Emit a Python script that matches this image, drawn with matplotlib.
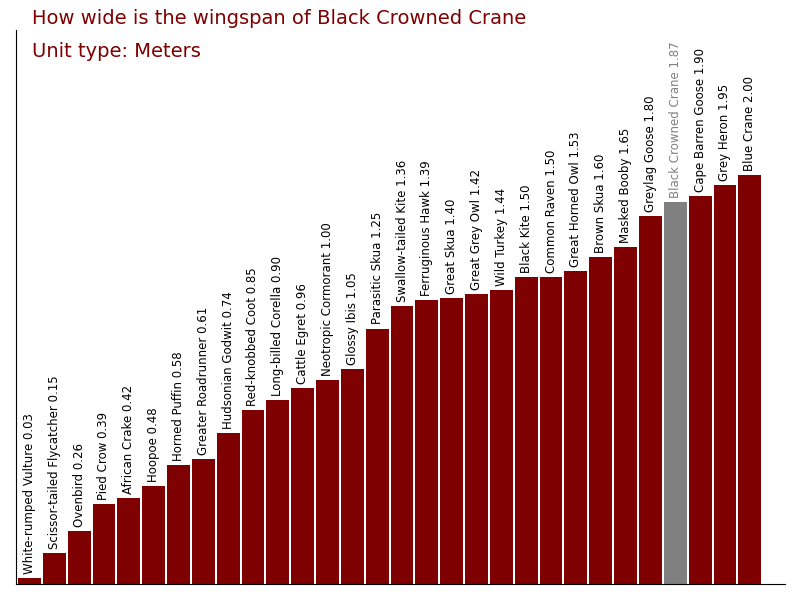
import matplotlib
matplotlib.use('Agg')
import matplotlib.pyplot as plt

birds = ['White-rumped Vulture', 'Scissor-tailed Flycatcher', 'Ovenbird', 'Pied Crow',
         'African Crake', 'Hoopoe', 'Horned Puffin', 'Greater Roadrunner', 'Hudsonian Godwit',
         'Red-knobbed Coot', 'Long-billed Corella', 'Cattle Egret', 'Neotropic Cormorant',
         'Glossy Ibis', 'Parasitic Skua', 'Swallow-tailed Kite', 'Ferruginous Hawk',
         'Great Skua', 'Great Grey Owl', 'Wild Turkey', 'Black Kite', 'Common Raven',
         'Great Horned Owl', 'Brown Skua', 'Masked Booby', 'Greylag Goose',
         'Black Crowned Crane', 'Cape Barren Goose', 'Grey Heron', 'Blue Crane']
wingspan = [0.03, 0.15, 0.26, 0.39, 0.42, 0.48, 0.58, 0.61, 0.74, 0.85, 0.90, 0.96, 1.00,
            1.05, 1.25, 1.36, 1.39, 1.40, 1.42, 1.44, 1.50, 1.50, 1.53, 1.60, 1.65, 1.80,
            1.87, 1.90, 1.95, 2.00]
highlight = 'Black Crowned Crane'

fig = plt.figure(figsize=(8, 6), dpi=100)
ax = fig.add_axes([0.02, 0.0267, 0.961, 0.923])

x = list(range(len(birds)))
colors = ['#808080' if b == highlight else '#7f0000' for b in birds]
ax.bar(x, wingspan, width=0.92, color=colors)

for i, (b, v) in enumerate(zip(birds, wingspan)):
    ax.text(i, v + 0.02, f'{b} {v:.2f}', rotation=90, ha='center', va='bottom',
            fontsize=8.5, color='#808080' if b == highlight else 'black')

ax.set_xlim(-0.54, len(birds) - 1 + 1.41)
ax.set_ylim(0, 2.71)
ax.set_xticks([])
ax.set_yticks([])
ax.spines['top'].set_visible(False)
ax.spines['right'].set_visible(False)

fig.text(0.04, 0.985, 'How wide is the wingspan of Black Crowned Crane', color='#7f0000',
         fontsize=14, va='top')
fig.text(0.04, 0.93, 'Unit type: Meters', color='#7f0000', fontsize=14, va='top')

fig.savefig('out.png')
